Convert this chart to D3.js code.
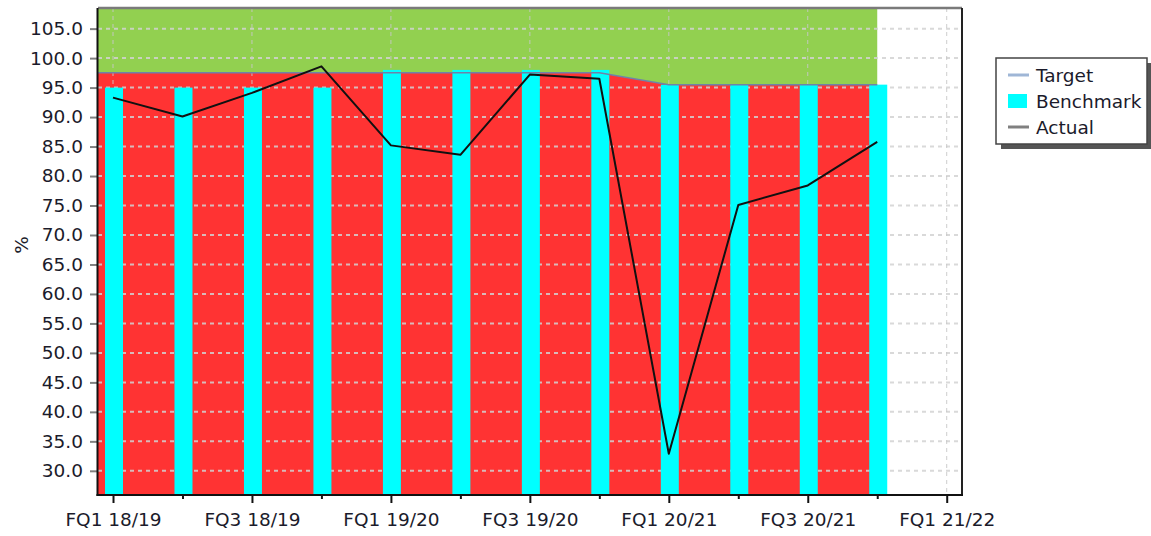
<!DOCTYPE html>
<html>
<head>
<meta charset="utf-8">
<script src="https://cdn.jsdelivr.net/npm/d3@7"></script>
<style>
  body { margin: 0; background: #fff; }
  svg { display: block; font-family: "DejaVu Sans", Verdana, sans-serif; }
</style>
</head>
<body>
<svg></svg>
<script>
// quarters shown on the chart (one point per quarter)
var quarters = ["FQ1 18/19", "FQ2 18/19", "FQ3 18/19", "FQ4 18/19",
                "FQ1 19/20", "FQ2 19/20", "FQ3 19/20", "FQ4 19/20",
                "FQ1 20/21", "FQ2 20/21", "FQ3 20/21", "FQ4 20/21"];
// axis tick labels (every quarter has a tick, every other one a label)
var tickLabels = ["FQ1 18/19", "", "FQ3 18/19", "", "FQ1 19/20", "", "FQ3 19/20", "",
                  "FQ1 20/21", "", "FQ3 20/21", "", "FQ1 21/22"];
var yTicks = [30, 35, 40, 45, 50, 55, 60, 65, 70, 75, 80, 85, 90, 95, 100, 105];

var target    = [97.5, 97.5, 97.5, 97.5, 97.5, 97.5, 97.5, 97.5, 95.5, 95.5, 95.5, 95.5];
var benchmark = [95.0, 95.0, 95.0, 95.0, 98.0, 98.0, 98.0, 98.0, 95.5, 95.5, 95.5, 95.5];
var actual    = [93.3, 90.1, 94.1, 98.6, 85.2, 83.6, 97.2, 96.5, 32.9, 75.1, 78.4, 85.8];

var yMin = 25.9, yMax = 108.5;

function drawChart() {
    var margin = { top: 8, left: 98 };
    var size = { w: 864, h: 487 };
    var svg = d3.select('svg').attr('width', 1151).attr('height', 536);
    var chart = svg.append('g')
        .attr('transform', 'translate(' + margin.left + ',' + margin.top + ')');

    var x = d3.scaleLinear().domain([-0.216, 12.22]).range([0, size.w]);
    var y = d3.scaleLinear().domain([yMin, yMax]).range([size.h, 0]);

    var rows = quarters.map((q, i) => ({ i: i, q: q, t: target[i], b: benchmark[i], a: actual[i] }));
    // areas start at the left edge of the plot
    var areaRows = [{ i: x.domain()[0], t: target[0] }].concat(rows);

    // red: below target
    chart.append('path')
        .datum(areaRows)
        .attr('fill', '#ff3333')
        .attr('d', d3.area().x(d => x(d.i)).y0(y(yMin)).y1(d => y(d.t)));
    // green: above target
    chart.append('path')
        .datum(areaRows)
        .attr('fill', '#92d050')
        .attr('d', d3.area().x(d => x(d.i)).y0(d => y(d.t)).y1(y(yMax)));

    // grid
    chart.append('g').selectAll('line.h')
        .data(yTicks).enter().append('line')
        .attr('x1', 0).attr('x2', size.w)
        .attr('y1', d => y(d)).attr('y2', d => y(d))
        .attr('stroke', '#d2d2d2').attr('stroke-opacity', 0.85)
        .attr('stroke-width', 2).attr('stroke-dasharray', '4,4');
    chart.append('g').selectAll('line.v')
        .data(d3.range(0, 13, 2)).enter().append('line')
        .attr('x1', d => x(d)).attr('x2', d => x(d))
        .attr('y1', 0).attr('y2', size.h)
        .attr('stroke', '#c8c8c8').attr('stroke-opacity', 0.9)
        .attr('stroke-width', 1).attr('stroke-dasharray', '4,4');

    // benchmark bars
    var bw = 18;
    chart.append('g').selectAll('rect')
        .data(rows).enter().append('rect')
        .attr('x', d => x(d.i) - bw / 2 + 1)
        .attr('y', d => y(d.b))
        .attr('width', bw)
        .attr('height', d => size.h - y(d.b))
        .attr('fill', '#00ffff');

    // target line
    chart.append('path')
        .datum(areaRows)
        .attr('fill', 'none').attr('stroke', '#6f82a8').attr('stroke-width', 1.5)
        .attr('d', d3.line().x(d => x(d.i)).y(d => y(d.t)));

    // actual line
    chart.append('path')
        .datum(rows)
        .attr('fill', 'none').attr('stroke', '#111').attr('stroke-width', 2)
        .attr('stroke-linejoin', 'round')
        .attr('d', d3.line().x(d => x(d.i)).y(d => y(d.a)));

    // plot frame: top and right borders
    chart.append('line').attr('x1', 0).attr('x2', size.w).attr('y1', 0).attr('y2', 0)
        .attr('stroke', '#7a7a7a').attr('stroke-width', 2.5);
    chart.append('line').attr('x1', size.w).attr('x2', size.w).attr('y1', 0).attr('y2', size.h)
        .attr('stroke', '#222').attr('stroke-width', 2);

    // y axis
    var yAxis = d3.axisLeft(y).tickValues(yTicks).tickFormat(d3.format('.1f'))
        .tickSize(8).tickPadding(7);
    var ya = chart.append('g').call(yAxis);
    ya.select('.domain').remove();
    ya.selectAll('.tick line').attr('stroke', '#808080').attr('stroke-width', 2).attr('x1', -1);
    ya.selectAll('text').attr('font-size', '18.5px').attr('fill', '#1b1b2b')
        .attr('font-family', '"DejaVu Sans", Verdana, sans-serif');
    chart.append('line').attr('x1', -0.5).attr('x2', -0.5).attr('y1', 0).attr('y2', size.h + 1)
        .attr('stroke', '#111').attr('stroke-width', 2);

    // x axis (major ticks with labels, minor ticks between)
    var xAxis = d3.axisBottom(x).tickValues(d3.range(0, 13))
        .tickFormat(i => tickLabels[i]).tickSizeOuter(0).tickPadding(12);
    var xa = chart.append('g').attr('transform', 'translate(0,' + size.h + ')').call(xAxis);
    xa.select('.domain').remove();
    xa.selectAll('.tick line').attr('stroke', '#111').attr('stroke-width', 2)
        .attr('y2', d => d % 2 === 0 ? 8 : 4);
    xa.selectAll('text').attr('font-size', '18.5px').attr('fill', '#1b1b2b')
        .attr('font-family', '"DejaVu Sans", Verdana, sans-serif');
    chart.append('line').attr('x1', -1.5).attr('x2', size.w + 1).attr('y1', size.h).attr('y2', size.h)
        .attr('stroke', '#111').attr('stroke-width', 2);

    // y title
    svg.append('text')
        .attr('transform', 'translate(28,245) rotate(-90)')
        .attr('text-anchor', 'middle')
        .attr('font-size', '18.5px').attr('fill', '#1b1b2b')
        .text('%');

    // legend
    var lg = svg.append('g').attr('transform', 'translate(996,58)');
    lg.append('rect').attr('x', 5).attr('y', 5).attr('width', 151).attr('height', 86).attr('fill', '#555');
    lg.append('rect').attr('x', 0).attr('y', 0).attr('width', 151).attr('height', 86)
        .attr('fill', '#fff').attr('stroke', '#444').attr('stroke-width', 1.5);
    var items = [
        { name: 'Target', type: 'line', color: '#9fb6d6' },
        { name: 'Benchmark', type: 'box', color: '#00ffff' },
        { name: 'Actual', type: 'line', color: '#808080' }
    ];
    var item = lg.selectAll('g.item').data(items).enter().append('g')
        .attr('transform', (d, i) => 'translate(0,' + (17 + i * 26) + ')');
    item.filter(d => d.type === 'line').append('line')
        .attr('x1', 12).attr('x2', 33).attr('y1', 0).attr('y2', 0)
        .attr('stroke', d => d.color).attr('stroke-width', 3);
    item.filter(d => d.type === 'box').append('rect')
        .attr('x', 12).attr('y', -7).attr('width', 19).attr('height', 14)
        .attr('fill', d => d.color);
    item.append('text')
        .attr('x', 40).attr('y', 7)
        .attr('font-size', '18.5px').attr('fill', '#1b1b2b')
        .text(d => d.name);
}

drawChart();
</script>
</body>
</html>
